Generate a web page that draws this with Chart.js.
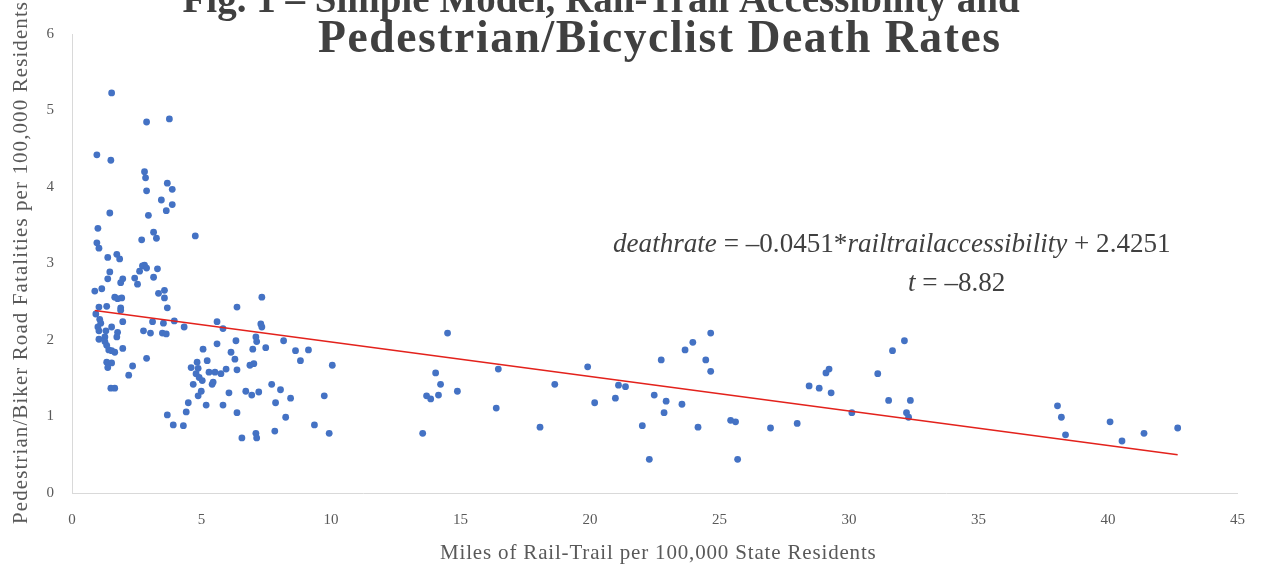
<!DOCTYPE html>
<html>
<head>
<meta charset="utf-8">
<script src="https://cdn.jsdelivr.net/npm/chart.js@4.4.1/dist/chart.umd.min.js"></script>
<style>
  html, body { margin: 0; padding: 0; background: #ffffff; overflow: hidden; }
  #wrap { width: 1263px; height: 569px; }
</style>
</head>
<body>
<div id="wrap"><canvas id="c" width="1263" height="569"></canvas></div>
<script>
// ---- Data ----
const railTrailMiles = [
  1.53, 2.88, 3.76, 0.96, 1.50, 2.80, 2.84, 3.68, 3.87, 2.88, 3.45, 3.87, 3.64, 2.95, 1.46, 1.00,
  0.96, 1.04, 2.69, 3.15, 3.26, 4.76, 1.38, 1.73, 1.84, 1.46, 1.38, 2.61, 2.80, 2.72, 2.88, 2.42,
  2.53, 3.15, 3.30, 1.96, 1.88, 0.88, 1.15, 1.65, 1.76, 1.92, 1.88, 1.88, 3.34, 3.57, 3.57, 3.68,
  1.04, 1.34, 6.37, 0.92, 1.07, 1.11, 1.00, 1.04, 1.53, 1.31, 1.76, 1.73, 1.96, 1.04, 1.27, 1.27,
  1.34, 1.42, 1.53, 1.65, 1.96, 2.76, 3.03, 3.11, 3.49, 3.64, 3.53, 3.95, 4.33, 5.60, 5.83, 5.06,
  5.60, 6.14, 6.33, 1.34, 1.53, 1.38, 2.34, 2.19, 2.88, 1.50, 1.65, 4.83, 5.22, 4.60, 4.87, 4.79,
  4.91, 5.03, 5.29, 5.52, 5.75, 5.95, 6.37, 6.29, 5.41, 5.45, 4.68, 4.99, 4.87, 6.06, 6.71, 4.49,
  5.18, 5.83, 4.41, 3.68, 6.37, 3.91, 4.30, 6.56, 7.33, 7.29, 7.33, 7.10, 7.13, 8.17, 7.48, 6.98,
  8.63, 9.13, 8.82, 10.05, 6.87, 7.02, 6.94, 7.21, 7.71, 8.05, 8.44, 9.74, 7.86, 8.25, 7.83, 9.36,
  9.93, 7.10, 7.13,
  14.50, 14.04, 14.23, 13.69, 13.85, 14.15, 14.88, 13.54, 16.46, 16.38, 18.07, 18.64, 19.91, 20.18,
  20.98, 21.10, 21.37, 22.02, 22.29, 22.48, 22.75, 22.94, 22.86, 23.55, 23.67, 23.97, 24.17, 24.47,
  24.66, 24.66, 25.43, 25.62, 25.70, 26.97, 28.00, 28.46, 28.85, 29.11, 29.23, 29.31, 30.11, 31.11,
  31.68, 32.14, 31.53, 32.37, 32.22, 32.30, 38.05, 38.20, 38.36, 40.08, 40.54, 41.39, 42.69
];
const deathRates = [
  5.23, 4.85, 4.89, 4.42, 4.35, 4.20, 4.12, 4.05, 3.97, 3.95, 3.83, 3.77, 3.69, 3.63, 3.66, 3.46,
  3.27, 3.20, 3.31, 3.41, 3.33, 3.36, 3.08, 3.12, 3.06, 2.89, 2.80, 2.90, 2.98, 2.97, 2.94, 2.81,
  2.73, 2.82, 2.93, 2.80, 2.75, 2.64, 2.67, 2.56, 2.54, 2.55, 2.42, 2.39, 2.61, 2.65, 2.55, 2.42,
  2.43, 2.44, 2.43, 2.34, 2.27, 2.22, 2.17, 2.12, 2.17, 2.12, 2.10, 2.04, 2.24, 2.01, 2.04, 1.98,
  1.93, 1.87, 1.86, 1.84, 1.89, 2.12, 2.09, 2.24, 2.09, 2.08, 2.22, 2.25, 2.17, 2.24, 2.15, 1.88,
  1.95, 1.84, 1.99, 1.71, 1.70, 1.64, 1.66, 1.54, 1.76, 1.37, 1.37, 1.71, 1.73, 1.64, 1.63, 1.56,
  1.51, 1.47, 1.58, 1.58, 1.56, 1.62, 1.61, 1.75, 1.42, 1.45, 1.42, 1.33, 1.27, 1.31, 1.33, 1.18,
  1.15, 1.15, 1.06, 1.02, 1.05, 0.89, 0.88, 0.72, 2.56, 2.21, 2.17, 2.04, 1.98, 1.99, 1.90, 1.88,
  1.86, 1.87, 1.73, 1.67, 1.67, 1.69, 1.28, 1.32, 1.42, 1.35, 1.24, 1.27, 1.18, 0.99, 0.81, 0.89,
  0.78, 0.78, 0.72,
  2.09, 1.57, 1.42, 1.27, 1.23, 1.28, 1.33, 0.78, 1.62, 1.11, 0.86, 1.42, 1.65, 1.18,
  1.24, 1.41, 1.39, 0.88, 0.44, 1.28, 1.74, 1.20, 1.05, 1.16, 1.87, 1.97, 0.86, 1.74,
  2.09, 1.59, 0.95, 0.93, 0.44, 0.85, 0.91, 1.40, 1.37, 1.57, 1.62, 1.31, 1.05, 1.56,
  1.86, 1.99, 1.21, 1.21, 1.05, 0.99, 1.14, 0.99, 0.76, 0.93, 0.68, 0.78, 0.85
];
// Trend line endpoints (as drawn in the reference)
const trendX = [0.88, 42.69];
const trendY = [2.385, 0.50];

const titleLines = ["Fig. 1 \u2013 Simple Model, Rail-Trail Accessibility and", "Pedestrian/Bicyclist Death Rates"];
const xAxisTitle = "Miles of Rail-Trail per 100,000 State Residents";
const yAxisTitle = "Pedestrian/Biker Road Fatalities per 100,000 Residents";
const equationLine1 = [
  { text: "deathrate", italic: true },
  { text: " = \u20130.0451*", italic: false },
  { text: "railtrailaccessibility", italic: true },
  { text: " + 2.4251", italic: false }
];
const equationLine2 = [
  { text: "t", italic: true },
  { text: " = \u20138.82", italic: false }
];

const points = railTrailMiles.map((x, i) => ({ x: x, y: deathRates[i] }));
const trend = trendX.map((x, i) => ({ x: x, y: trendY[i] }));

const SERIF = "'Liberation Serif', 'DejaVu Serif', serif";

function fontStr(italic, weight, size) {
  return (italic ? 'italic ' : '') + weight + ' ' + size + 'px ' + SERIF;
}
function runsWidth(ctx, runs, size, weight) {
  let w = 0;
  ctx.letterSpacing = '0px';
  runs.forEach(r => {
    ctx.font = fontStr(r.italic, weight, size);
    w += ctx.measureText(r.text).width;
  });
  return w;
}
function drawRuns(ctx, runs, x, baseline, size, weight, color) {
  let cx = x;
  ctx.fillStyle = color;
  ctx.textBaseline = 'alphabetic';
  ctx.textAlign = 'left';
  ctx.letterSpacing = '0px';
  runs.forEach(r => {
    ctx.font = fontStr(r.italic, weight, size);
    ctx.fillText(r.text, cx, baseline);
    cx += ctx.measureText(r.text).width;
  });
}
// Draw a string centred on cx, with non-negative letter spacing so it spans about targetWidth
function drawSpacedCentered(ctx, text, cx, baseline, size, weight, color, targetWidth) {
  ctx.letterSpacing = '0px';
  ctx.font = fontStr(false, weight, size);
  const w0 = ctx.measureText(text).width;
  const n = text.length;
  const sp = Math.max(0, (targetWidth - w0) / Math.max(1, n - 1));
  const total = w0 + sp * (n - 1);
  ctx.letterSpacing = sp.toFixed(2) + 'px';
  ctx.fillStyle = color;
  ctx.textAlign = 'left';
  ctx.textBaseline = 'alphabetic';
  ctx.fillText(text, cx - total / 2, baseline);
  ctx.letterSpacing = '0px';
}
function fitSize(ctx, text, weight, targetWidth) {
  return 20 * targetWidth / runsWidth(ctx, [{ text: text, italic: false }], 20, weight);
}

const textPlugin = {
  id: 'textPlugin',
  afterDraw(chart) {
    const ctx = chart.ctx;
    ctx.save();
    // Title
    const ts2 = fitSize(ctx, titleLines[1], 'bold', 682) * 0.93;
    const ts1 = Math.min(ts2, fitSize(ctx, titleLines[0], 'bold', 837));
    drawSpacedCentered(ctx, titleLines[0], 601, 12, ts1, 'bold', '#404040', 837);
    drawSpacedCentered(ctx, titleLines[1], 659, 52, ts2, 'bold', '#404040', 682);
    // Equation
    const es = 20 * 558 / runsWidth(ctx, equationLine1, 20, 'normal');
    drawRuns(ctx, equationLine1, 613, 252, es, 'normal', '#404040');
    drawRuns(ctx, equationLine2, 908, 291, es, 'normal', '#404040');
    // X axis title
    drawSpacedCentered(ctx, xAxisTitle, 658, 559, 21, 'normal', '#595959', 436);
    // Y axis title (rotated)
    ctx.save();
    ctx.translate(27, 263);
    ctx.rotate(-Math.PI / 2);
    drawSpacedCentered(ctx, yAxisTitle, 0, 0, 21, 'normal', '#595959', 522);
    ctx.restore();
    ctx.restore();
  }
};

new Chart(document.getElementById('c'), {
  type: 'scatter',
  data: {
    datasets: [
      {
        type: 'line',
        label: 'Trend',
        data: trend,
        borderColor: '#E3221C',
        borderWidth: 1.6,
        pointRadius: 0,
        fill: false,
        tension: 0,
        order: 0
      },
      {
        label: 'States',
        data: points,
        backgroundColor: '#4472C4',
        borderColor: '#4472C4',
        borderWidth: 0,
        pointRadius: 3.4,
        order: 1
      }
    ]
  },
  options: {
    responsive: false,
    animation: false,
    devicePixelRatio: 1,
    layout: { padding: { top: 34, right: 18, bottom: 0, left: 0 } },
    plugins: {
      legend: { display: false },
      title: { display: false },
      tooltip: { enabled: false }
    },
    scales: {
      x: {
        type: 'linear',
        min: 0,
        max: 45,
        ticks: { stepSize: 5, color: '#595959', font: { family: SERIF, size: 15 }, padding: 18 },
        grid: { display: false, drawTicks: false },
        border: { display: true, color: '#d9d9d9', width: 1 },
        title: { display: false, text: xAxisTitle },
        afterFit(scale) { scale.height = 76; }
      },
      y: {
        type: 'linear',
        min: 0,
        max: 6,
        ticks: { stepSize: 1, color: '#595959', font: { family: SERIF, size: 15 }, padding: 18 },
        grid: { display: false, drawTicks: false },
        border: { display: true, color: '#d9d9d9', width: 1 },
        title: { display: false, text: yAxisTitle },
        afterFit(scale) { scale.width = 72; }
      }
    }
  },
  plugins: [textPlugin]
});
</script>
</body>
</html>
